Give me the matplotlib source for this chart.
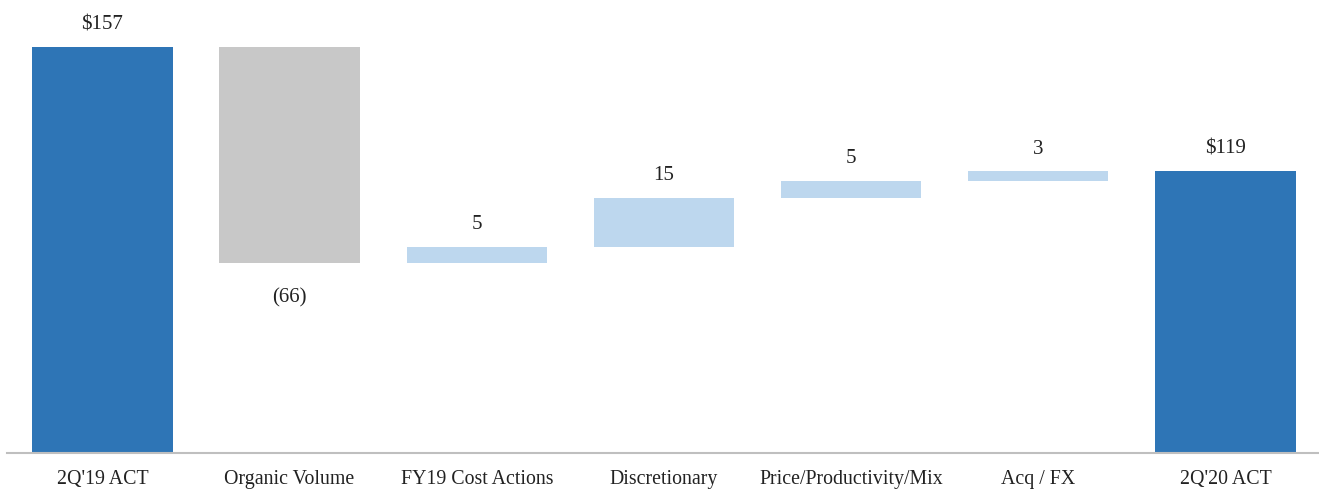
import matplotlib
matplotlib.use("Agg")
import matplotlib.pyplot as plt

categories = ["2Q'19 ACT", "Organic Volume", "FY19 Cost Actions", "Discretionary",
              "Price/Productivity/Mix", "Acq / FX", "2Q'20 ACT"]
values = [157, -66, 5, 15, 5, 3, 119]
labels = ["$157", "(66)", "5", "15", "5", "3", "$119"]
kinds = ["total", "neg", "pos", "pos", "pos", "pos", "total"]

colors = {"total": "#2E75B6", "neg": "#C8C8C8", "pos": "#BDD7EE"}

fig = plt.figure(figsize=(13.19, 4.96), dpi=100)
ax = fig.add_axes([7 / 1319, 1 - 453 / 496, 1 - 7 / 1319, 453 / 496])

running = 0
bottoms, heights = [], []
for v, k in zip(values, kinds):
    if k == "total":
        bottoms.append(0)
        heights.append(v)
        running = v
    else:
        if v >= 0:
            bottoms.append(running)
            heights.append(v)
        else:
            bottoms.append(running + v)
            heights.append(-v)
        running += v

x = list(range(len(categories)))
ax.bar(x, heights, bottom=bottoms, width=0.75,
       color=[colors[k] for k in kinds], zorder=2)

font = "Liberation Serif"
for xi, b, h, v, lab, k in zip(x, bottoms, heights, values, labels, kinds):
    if v < 0:
        ax.annotate(lab, (xi, b), xytext=(0, -25), textcoords="offset points",
                    ha="center", va="center", fontsize=15, family=font, color="#222222")
    else:
        ax.annotate(lab, (xi, b + h), xytext=(0, 16), textcoords="offset points",
                    ha="center", va="center", fontsize=15, family=font, color="#222222")

ax.set_xlim(-0.51, 6.5)
ax.set_ylim(33, 171.3)
ax.set_xticks(x)
ax.set_xticklabels(categories, family=font, fontsize=14.3, color="#222222")
ax.tick_params(axis="x", length=0, pad=12)
ax.set_yticks([])
for s in ["top", "right", "left"]:
    ax.spines[s].set_visible(False)
ax.spines["bottom"].set_color("#BFBFBF")
ax.spines["bottom"].set_linewidth(1.5)

fig.savefig("out.png", dpi=100)
